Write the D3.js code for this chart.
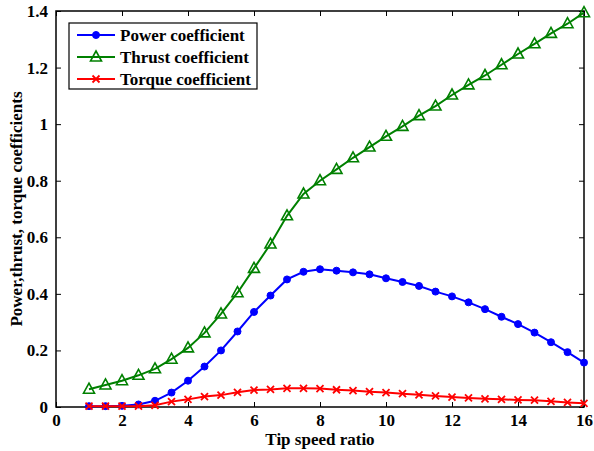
<!DOCTYPE html>
<html>
<head>
<meta charset="utf-8">
<script src="https://cdn.jsdelivr.net/npm/d3@7"></script>
<style>
  body { margin: 0; background: #fff; }
  text { font-family: "Liberation Serif", "Times New Roman", serif; font-weight: bold; }
</style>
</head>
<body>
<div id="viz"></div>
<script>
var tsr = [1, 1.5, 2, 2.5, 3, 3.5, 4, 4.5, 5, 5.5, 6, 6.5, 7, 7.5, 8, 8.5,
           9, 9.5, 10, 10.5, 11, 11.5, 12, 12.5, 13, 13.5, 14, 14.5, 15, 15.5, 16];

var power = [0.003, 0.003, 0.004, 0.009, 0.022, 0.051, 0.093, 0.143, 0.200, 0.267,
             0.336, 0.394, 0.451, 0.478, 0.487, 0.482, 0.476, 0.469, 0.455, 0.442,
             0.428, 0.408, 0.391, 0.370, 0.346, 0.319, 0.293, 0.263, 0.229, 0.194, 0.157];

var thrust = [0.063, 0.078, 0.093, 0.112, 0.135, 0.169, 0.209, 0.262, 0.329, 0.404,
              0.490, 0.576, 0.676, 0.753, 0.800, 0.840, 0.881, 0.919, 0.957, 0.992,
              1.030, 1.064, 1.103, 1.139, 1.172, 1.210, 1.248, 1.284, 1.321, 1.355, 1.394];

var torque = [0.003, 0.003, 0.003, 0.003, 0.006, 0.019, 0.027, 0.037, 0.042, 0.052,
              0.060, 0.062, 0.066, 0.066, 0.065, 0.061, 0.058, 0.054, 0.051, 0.047,
              0.043, 0.039, 0.035, 0.032, 0.029, 0.027, 0.025, 0.024, 0.020, 0.016, 0.013];

var xTicks = [0, 2, 4, 6, 8, 10, 12, 14, 16];
var yTicks = [0, 0.2, 0.4, 0.6, 0.8, 1, 1.2, 1.4];

var seriesNames = ["Power coefficient", "Thrust coefficient", "Torque coefficient"];
var seriesColors = ["#0000ff", "#008000", "#ff0000"];

var width = 594,
    height = 451;

var plotL = 56, plotR = 584, plotT = 11, plotB = 407;

var x = d3.scaleLinear().domain([0, 16]).range([plotL, plotR]);
var y = d3.scaleLinear().domain([0, 1.4]).range([plotB, plotT]);

var svg = d3.select("#viz").append("svg")
    .attr("width", width)
    .attr("height", height);

// axes (ticks point inward, box all round)
var fmt = function(d) { return String(d); };

svg.append("g")
    .attr("transform", "translate(0," + plotB + ")")
    .call(d3.axisBottom(x).tickValues(xTicks).tickSize(-5).tickPadding(7).tickFormat(fmt))
    .call(function(g) {
      g.select(".domain").remove();
      g.selectAll("text").attr("font-size", 17).attr("fill", "#000");
    });

svg.append("g")
    .attr("transform", "translate(0," + plotT + ")")
    .call(d3.axisTop(x).tickValues(xTicks).tickSize(-5).tickFormat(""))
    .call(function(g) { g.select(".domain").remove(); });

svg.append("g")
    .attr("transform", "translate(" + plotL + ",0)")
    .call(d3.axisLeft(y).tickValues(yTicks).tickSize(-5).tickPadding(8).tickFormat(fmt))
    .call(function(g) {
      g.select(".domain").remove();
      g.selectAll("text").attr("font-size", 17).attr("fill", "#000");
    });

svg.append("g")
    .attr("transform", "translate(" + plotR + ",0)")
    .call(d3.axisRight(y).tickValues(yTicks).tickSize(-5).tickFormat(""))
    .call(function(g) { g.select(".domain").remove(); });

svg.append("rect")
    .attr("x", plotL).attr("y", plotT)
    .attr("width", plotR - plotL).attr("height", plotB - plotT)
    .attr("fill", "none").attr("stroke", "#000").attr("stroke-width", 1.5);

// axis titles
svg.append("text")
    .attr("x", (plotL + plotR) / 2).attr("y", 445)
    .attr("text-anchor", "middle")
    .attr("font-size", 17)
    .text("Tip speed ratio");

svg.append("text")
    .attr("transform", "translate(22," + ((plotT + plotB) / 2) + ") rotate(-90)")
    .attr("text-anchor", "middle")
    .attr("font-size", 17)
    .text("Power,thrust, torque coefficients");

// markers
function drawMarker(g, kind, color) {
  if (kind === 0) {
    g.append("circle").attr("r", 3.5).attr("fill", color).attr("stroke", color);
  } else if (kind === 1) {
    g.append("path").attr("d", "M0,-6L5.5,4L-5.5,4Z")
      .attr("fill", "none").attr("stroke", color).attr("stroke-width", 1.6);
  } else {
    g.append("path").attr("d", "M-3.5,-3.5L3.5,3.5M-3.5,3.5L3.5,-3.5")
      .attr("stroke", color).attr("stroke-width", 1.8);
  }
}

var line = d3.line()
    .x(function(d) { return x(d[0]); })
    .y(function(d) { return y(d[1]); });

[power, thrust, torque].forEach(function(vals, k) {
  var pts = tsr.map(function(t, i) { return [t, vals[i]]; });
  svg.append("path")
      .datum(pts)
      .attr("d", line)
      .attr("fill", "none")
      .attr("stroke", seriesColors[k])
      .attr("stroke-width", 2);
  svg.selectAll(".m" + k)
      .data(pts)
    .enter().append("g")
      .attr("class", "m" + k)
      .attr("transform", function(d) { return "translate(" + x(d[0]) + "," + y(d[1]) + ")"; })
      .each(function() { drawMarker(d3.select(this), k, seriesColors[k]); });
});

// legend
var legend = svg.append("g");
legend.append("rect")
    .attr("x", 69).attr("y", 23)
    .attr("width", 188).attr("height", 66)
    .attr("fill", "#fff").attr("stroke", "#000").attr("stroke-width", 1.2);

seriesNames.forEach(function(name, k) {
  var ly = 35 + k * 22;
  legend.append("line")
      .attr("x1", 77).attr("x2", 115)
      .attr("y1", ly).attr("y2", ly)
      .attr("stroke", seriesColors[k]).attr("stroke-width", 2);
  var m = legend.append("g").attr("transform", "translate(96," + ly + ")");
  drawMarker(m, k, seriesColors[k]);
  legend.append("text")
      .attr("x", 120).attr("y", ly + 6)
      .attr("font-size", 17)
      .text(name);
});
</script>
</body>
</html>
